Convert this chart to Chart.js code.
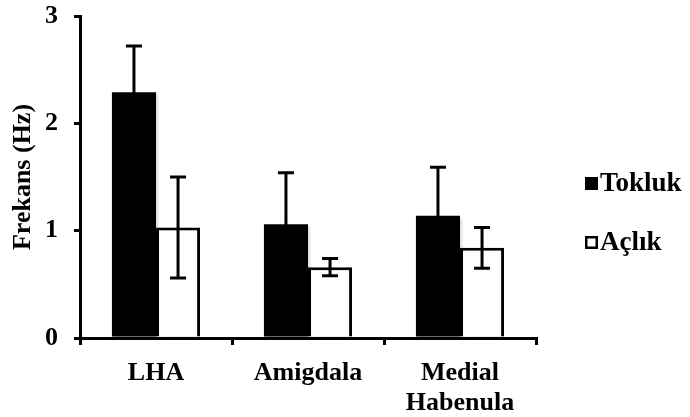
<!DOCTYPE html>
<html><head><meta charset="utf-8">
<script src="https://cdn.jsdelivr.net/npm/chart.js@4/dist/chart.umd.min.js"></script>
<style>html,body{margin:0;padding:0;background:#fff}</style>
</head><body>
<canvas id="c" width="690" height="417" style="display:block;width:690px;height:417px"></canvas>
<script>
// ---- data ----
const categories = [["LHA"], ["Amigdala"], ["Medial", "Habenula"]];
const seriesNames = ["Tokluk", "Açlık"];
const toklukValues = [2.29, 1.06, 1.14];
const toklukErrors = [0.43, 0.48, 0.45];
const aclikValues = [1.03, 0.66, 0.84];
const aclikErrors = [0.47, 0.08, 0.19];
const yTicks = [0, 1, 2, 3];
const yTitle = "Frekans (Hz)";

const FONT = {family: "'Liberation Serif', 'Times New Roman', serif", weight: "bold", size: 26, lineHeight: 1.15};

const shadowPlugin = {
  id: 'barShadow',
  beforeDatasetsDraw(chart) {
    const ctx = chart.ctx;
    ctx.save();
    ctx.shadowColor = 'rgba(0,0,0,0.18)';
    ctx.shadowBlur = 3;
    ctx.shadowOffsetX = 2;
    ctx.shadowOffsetY = 2;
  },
  afterDatasetsDraw(chart) {
    chart.ctx.restore();
  }
};

const errorBarPlugin = {
  id: 'errbars',
  afterDatasetsDraw(chart) {
    const ctx = chart.ctx, ys = chart.scales.y;
    chart.data.datasets.forEach((ds, i) => {
      const meta = chart.getDatasetMeta(i);
      meta.data.forEach((bar, j) => {
        const v = ds.data[j], e = ds.errors[j];
        const x = bar.x, t = ys.getPixelForValue(v + e), b = ys.getPixelForValue(v - e);
        ctx.save();
        ctx.strokeStyle = '#000'; ctx.lineWidth = 3;
        ctx.beginPath();
        ctx.moveTo(x, t); ctx.lineTo(x, b);
        ctx.moveTo(x - 8, t); ctx.lineTo(x + 8, t);
        ctx.moveTo(x - 8, b); ctx.lineTo(x + 8, b);
        ctx.stroke();
        ctx.restore();
      });
    });
  }
};

const legendPlugin = {
  id: 'customLegend',
  afterDraw(chart) {
    const ctx = chart.ctx;
    const baselines = [191, 250];
    chart.data.datasets.forEach((ds, i) => {
      const by = baselines[i];
      ctx.save();
      ctx.fillStyle = ds.backgroundColor;
      ctx.fillRect(585, by - 14, 13, 13);
      ctx.strokeStyle = '#000'; ctx.lineWidth = 2.5;
      ctx.strokeRect(586.25, by - 12.75, 10.5, 10.5);
      ctx.fillStyle = '#000';
      ctx.font = "bold 27px 'Liberation Serif', 'Times New Roman', serif";
      ctx.textBaseline = 'alphabetic';
      ctx.textAlign = 'left';
      ctx.fillText(ds.label, 600, by);
      ctx.restore();
    });
  }
};

new Chart(document.getElementById('c'), {
  type: 'bar',
  data: {
    labels: categories,
    datasets: [
      {label: seriesNames[0], data: toklukValues, errors: toklukErrors, backgroundColor: '#000', borderColor: '#000', borderWidth: 0},
      {label: seriesNames[1], data: aclikValues, errors: aclikErrors, backgroundColor: '#fff', borderColor: '#000', borderWidth: 3}
    ]
  },
  options: {
    responsive: false,
    animation: false,
    devicePixelRatio: 1,
    categoryPercentage: 0.58,
    barPercentage: 1.0,
    layout: {padding: {left: 0, right: 154, top: 16, bottom: 0}},
    plugins: {legend: {display: false}, tooltip: {enabled: false}},
    scales: {
      x: {
        grid: {offset: true, drawOnChartArea: false, drawTicks: true, tickLength: 7, color: '#000', lineWidth: 3},
        border: {display: true, color: '#000', width: 3},
        ticks: {font: FONT, color: '#000', padding: 13, maxRotation: 0, autoSkip: false},
        afterFit(s) { s.height = 79; s.paddingLeft = 0; s.paddingRight = 0; }
      },
      y: {
        min: 0, max: 3,
        afterBuildTicks(s) { s.ticks = yTicks.map(v => ({value: v})); },
        grid: {drawOnChartArea: false, drawTicks: true, tickLength: 6, color: '#000', lineWidth: 3},
        border: {display: true, color: '#000', width: 3},
        ticks: {font: FONT, color: '#000', padding: 16},
        title: {display: true, text: yTitle, font: FONT, color: '#000', padding: {top: 8, bottom: 0}},
        afterFit(s) { s.width = 80; s.paddingTop = 0; s.paddingBottom = 0; }
      }
    }
  },
  plugins: [shadowPlugin, errorBarPlugin, legendPlugin]
});
</script>
</body></html>
